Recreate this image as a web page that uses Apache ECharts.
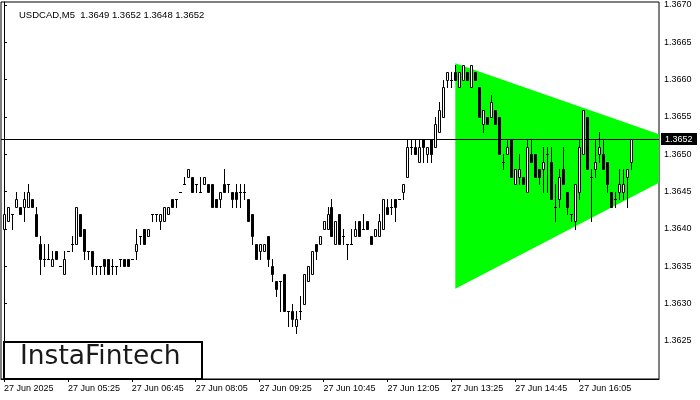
<!DOCTYPE html>
<html><head><meta charset="utf-8">
<script src="https://cdn.jsdelivr.net/npm/echarts@6/dist/echarts.min.js"></script>
<style>html,body{margin:0;padding:0;background:#fff}#c{width:700px;height:400px}</style>
</head><body><div id="c"></div>
<script>
// ---- data (USDCAD M5, bar index 0 = 27 Jun 04:05) ----
const openP = [
1.3640,1.3641,1.3642,1.3643,1.3643,1.3643,1.3643,1.3644,1.3642,1.3638,
1.3636,1.3636,1.3635,1.3637,1.3635,1.3634,1.3637,1.3638,1.3638,1.3642,
1.3640,1.3637,1.3637,1.3635,1.3635,1.3636,1.3636,1.3635,1.3635,1.3636,
1.3636,1.3636,1.3636,1.3637,1.3639,1.3640,1.3639,1.3642,1.3642,1.3641,
1.3641,1.3642,1.3644,1.3644,1.3645,1.3646,1.3647,1.3647,1.3646,1.3645,
1.3646,1.3646,1.3646,1.3644,1.3644,1.3646,1.3646,1.3645,1.3645,1.3645,
1.3645,1.3644,1.3642,1.3638,1.3637,1.3637,1.3639,1.3635,1.3633,1.3633,
1.3634,1.3629,1.3629,1.3627,1.3629,1.3630,1.3633,1.3634,1.3638,1.3638,
1.3640,1.3640,1.3643,1.3638,1.3642,1.3639,1.3638,1.3638,1.3639,1.3641,
1.3640,1.3641,1.3639,1.3639,1.3639,1.3640,1.3643,1.3643,1.3644,1.3644,
1.3645,1.3647,1.3651,1.3651,1.3649,1.3652,1.3650,1.3652,1.3651,1.3653,
1.3655,1.3660,1.3660,1.3661,1.3659,1.3660,1.3661,1.3659,1.3661,1.3659,
1.3654,1.3655,1.3655,1.3656,1.3655,1.3649,1.3650,1.3652,1.3646,1.3647,
1.3647,1.3645,1.3650,1.3650,1.3648,1.3648,1.3650,1.3649,1.3643,1.3644,
1.3648,1.3645,1.3642,1.3641,1.3645,1.3650,1.3655,1.3647,1.3648,1.3650,
1.3650,1.3649,1.3645,1.3644,1.3645,1.3645,1.3647,1.3649];
const highP = [
1.3643,1.3643,1.3642,1.3645,1.3643,1.3645,1.3646,1.3644,1.3643,1.3639,
1.3638,1.3638,1.3637,1.3637,1.3635,1.3637,1.3637,1.3639,1.3643,1.3642,
1.3640,1.3637,1.3637,1.3635,1.3635,1.3636,1.3636,1.3636,1.3635,1.3636,
1.3636,1.3636,1.3636,1.3640,1.3639,1.3640,1.3640,1.3642,1.3642,1.3642,
1.3643,1.3643,1.3644,1.3644,1.3645,1.3647,1.3648,1.3647,1.3646,1.3647,
1.3647,1.3646,1.3646,1.3644,1.3645,1.3648,1.3646,1.3645,1.3646,1.3646,
1.3646,1.3644,1.3642,1.3638,1.3638,1.3638,1.3639,1.3636,1.3633,1.3633,
1.3634,1.3629,1.3630,1.3629,1.3631,1.3634,1.3635,1.3637,1.3638,1.3639,
1.3641,1.3643,1.3644,1.3641,1.3642,1.3640,1.3638,1.3640,1.3641,1.3641,
1.3642,1.3641,1.3639,1.3640,1.3642,1.3644,1.3644,1.3644,1.3644,1.3644,
1.3646,1.3652,1.3652,1.3652,1.3652,1.3652,1.3651,1.3652,1.3655,1.3657,
1.3660,1.3661,1.3661,1.3662,1.3661,1.3662,1.3661,1.3662,1.3661,1.3659,
1.3656,1.3655,1.3658,1.3656,1.3655,1.3650,1.3652,1.3652,1.3648,1.3650,
1.3647,1.3652,1.3652,1.3650,1.3648,1.3651,1.3651,1.3651,1.3646,1.3648,
1.3651,1.3645,1.3642,1.3646,1.3652,1.3656,1.3655,1.3648,1.3652,1.3653,
1.3652,1.3649,1.3645,1.3645,1.3648,1.3648,1.3648,1.3652];
const lowP = [
1.3639,1.3641,1.3640,1.3643,1.3642,1.3641,1.3643,1.3643,1.3639,1.3634,
1.3635,1.3636,1.3635,1.3636,1.3635,1.3634,1.3637,1.3637,1.3638,1.3639,
1.3636,1.3636,1.3634,1.3634,1.3634,1.3634,1.3634,1.3634,1.3634,1.3635,
1.3635,1.3635,1.3636,1.3636,1.3638,1.3638,1.3639,1.3641,1.3641,1.3640,
1.3641,1.3642,1.3643,1.3643,1.3645,1.3646,1.3647,1.3645,1.3645,1.3645,
1.3646,1.3645,1.3643,1.3643,1.3643,1.3645,1.3645,1.3643,1.3643,1.3643,
1.3644,1.3641,1.3638,1.3636,1.3636,1.3637,1.3635,1.3633,1.3631,1.3629,
1.3629,1.3627,1.3627,1.3626,1.3628,1.3630,1.3633,1.3634,1.3636,1.3638,
1.3640,1.3640,1.3639,1.3638,1.3638,1.3638,1.3636,1.3638,1.3639,1.3639,
1.3640,1.3640,1.3638,1.3639,1.3639,1.3640,1.3642,1.3642,1.3641,1.3644,
1.3644,1.3647,1.3650,1.3650,1.3649,1.3649,1.3649,1.3649,1.3651,1.3653,
1.3655,1.3659,1.3659,1.3660,1.3659,1.3660,1.3660,1.3659,1.3660,1.3655,
1.3653,1.3654,1.3655,1.3654,1.3650,1.3648,1.3650,1.3647,1.3646,1.3646,
1.3646,1.3645,1.3649,1.3647,1.3646,1.3645,1.3645,1.3644,1.3641,1.3643,
1.3646,1.3642,1.3641,1.3640,1.3644,1.3650,1.3648,1.3641,1.3647,1.3649,
1.3648,1.3645,1.3643,1.3643,1.3644,1.3644,1.3643,1.3648];
const closeP = [
1.3642,1.3643,1.3642,1.3644,1.3642,1.3644,1.3645,1.3643,1.3639,1.3636,
1.3636,1.3636,1.3636,1.3636,1.3635,1.3636,1.3637,1.3638,1.3643,1.3639,
1.3637,1.3637,1.3635,1.3635,1.3635,1.3635,1.3634,1.3635,1.3635,1.3636,
1.3635,1.3635,1.3636,1.3638,1.3639,1.3638,1.3640,1.3642,1.3642,1.3642,
1.3643,1.3643,1.3643,1.3644,1.3645,1.3646,1.3648,1.3645,1.3646,1.3645,
1.3647,1.3645,1.3643,1.3643,1.3645,1.3645,1.3646,1.3644,1.3644,1.3645,
1.3645,1.3641,1.3639,1.3636,1.3638,1.3638,1.3636,1.3634,1.3632,1.3633,
1.3629,1.3629,1.3628,1.3628,1.3629,1.3634,1.3635,1.3637,1.3637,1.3639,
1.3641,1.3642,1.3639,1.3641,1.3638,1.3639,1.3638,1.3638,1.3640,1.3639,
1.3640,1.3640,1.3638,1.3640,1.3641,1.3644,1.3642,1.3643,1.3643,1.3644,
1.3646,1.3651,1.3651,1.3650,1.3651,1.3651,1.3651,1.3650,1.3654,1.3656,
1.3659,1.3661,1.3660,1.3660,1.3661,1.3662,1.3660,1.3662,1.3660,1.3655,
1.3656,1.3654,1.3657,1.3654,1.3650,1.3649,1.3651,1.3647,1.3648,1.3648,
1.3646,1.3651,1.3649,1.3647,1.3647,1.3649,1.3650,1.3644,1.3643,1.3647,
1.3646,1.3643,1.3642,1.3646,1.3651,1.3656,1.3648,1.3647,1.3649,1.3651,
1.3648,1.3646,1.3643,1.3644,1.3646,1.3646,1.3648,1.3652];

const tickIdx = [0,16,32,48,64,80,96,112,128,144];
const tickLabels = ['27 Jun 2025','27 Jun 05:25','27 Jun 06:45','27 Jun 08:05','27 Jun 09:25',
                    '27 Jun 10:45','27 Jun 12:05','27 Jun 13:25','27 Jun 14:45','27 Jun 16:05'];
const yTicks = [1.3625,1.3630,1.3635,1.3640,1.3645,1.3650,1.3655,1.3660,1.3665,1.3670];
const currentPrice = 1.3652;
const titleText = 'USDCAD,M5  1.3649 1.3652 1.3648 1.3652';
const logoText = 'InstaFintech';
// symmetrical triangle pattern (bar index, price)
const triX = [113, 164, 164, 113];
const triP = [1.36622, 1.36527, 1.36462, 1.36320];

const candles = openP.map((o, i) => [i, o, closeP[i], lowP[i], highP[i]]);
const FONT = '"Liberation Sans", Arial, sans-serif';

function renderCandle(params, api) {
  const i = api.value(0), o = api.value(1), c = api.value(2), l = api.value(3), h = api.value(4);
  const po = api.coord([i, o]), pc = api.coord([i, c]), pl = api.coord([i, l]), ph = api.coord([i, h]);
  const cx = Math.round(po[0]) + 0.5;
  const yo = Math.round(po[1]), yc = Math.round(pc[1]), yl = Math.round(pl[1]), yh = Math.round(ph[1]);
  const top = Math.min(yo, yc), bot = Math.max(yo, yc);
  const bull = c > o;
  const ch = [{ type: 'line', shape: { x1: cx, y1: yh, x2: cx, y2: yl + 1 },
                style: { stroke: '#000', lineWidth: 1 } }];
  if (bot - top < 1) {
    ch.push({ type: 'line', shape: { x1: cx - 1.5, y1: top + 0.5, x2: cx + 1.5, y2: top + 0.5 },
              style: { stroke: '#000', lineWidth: 1 } });
  } else {
    ch.push({ type: 'rect', shape: { x: cx - 1, y: top + 0.5, width: 2, height: bot - top },
              style: { stroke: '#000', lineWidth: 1, fill: bull ? '#fff' : '#000' } });
  }
  return { type: 'group', children: ch };
}

function renderTriangle(params, api) {
  const pts = triX.map((x, k) => api.coord([x, triP[k]]));
  return { type: 'polygon', shape: { points: pts }, style: { fill: '#00ff00', stroke: null } };
}

function renderPriceLine(params, api) {
  const cs = params.coordSys;
  const y = Math.round(api.coord([0, api.value(1)])[1]) + 0.5;
  const txt = api.value(1).toFixed(4);
  return { type: 'group', children: [
    { type: 'line', shape: { x1: cs.x, y1: y, x2: cs.x + cs.width, y2: y },
      style: { stroke: '#000', lineWidth: 1 } },
    { type: 'rect', shape: { x: cs.x + cs.width + 2, y: y - 6.5, width: 36, height: 12 },
      style: { fill: '#000' } },
    { type: 'text', x: cs.x + cs.width + 6, y: y,
      style: { text: txt, fill: '#fff', fontSize: 9, fontFamily: FONT, verticalAlign: 'middle', align: 'left' } }
  ] };
}

const chart = echarts.init(document.getElementById('c'), null, { renderer: 'canvas' });
chart.setOption({
  animation: false,
  backgroundColor: '#fff',
  title: { text: titleText, left: 14, top: 5,
           textStyle: { fontSize: 9.5, fontWeight: 'normal', color: '#000', fontFamily: FONT } },
  grid: { left: 1, right: 41, top: 2, bottom: 21, show: true, borderColor: '#000', borderWidth: 1,
          backgroundColor: 'transparent' },
  xAxis: {
    type: 'value', min: -0.75, max: 164, scale: true,
    axisLine: { show: true, lineStyle: { color: '#000', width: 1 } },
    axisTick: { show: true, customValues: tickIdx, length: 3, inside: false, lineStyle: { color: '#000' } },
    axisLabel: { show: true, customValues: tickIdx, align: 'left', margin: 5, fontSize: 9,
                 color: '#000', fontFamily: FONT,
                 formatter: v => tickLabels[tickIdx.indexOf(Math.round(v))] || '' },
    splitLine: { show: false }
  },
  yAxis: {
    type: 'value', position: 'right', min: 1.36199, max: 1.36704, scale: true,
    axisLine: { show: true, lineStyle: { color: '#000', width: 1 } },
    axisTick: { show: true, customValues: yTicks, length: 3, inside: false, lineStyle: { color: '#000' } },
    axisLabel: { show: true, customValues: yTicks, margin: 5, fontSize: 9, color: '#000',
                 fontFamily: FONT, formatter: v => v.toFixed(4) },
    splitLine: { show: false }
  },
  series: [
    { type: 'custom', name: 'triangle', data: [[triX[0], triP[0]]], renderItem: renderTriangle,
      clip: true, z: 1, silent: true },
    { type: 'custom', name: 'price', data: [[0, currentPrice]], renderItem: renderPriceLine,
      clip: false, z: 2, silent: true, encode: { x: 0, y: 1 } },
    { type: 'custom', name: 'USDCAD', data: candles, renderItem: renderCandle, clip: true, z: 3,
      encode: { x: 0, y: [1, 2, 3, 4] }, silent: true }
  ],
  graphic: [
    { type: 'rect', left: 3, top: 341, shape: { width: 198, height: 37 },
      style: { fill: '#fff', stroke: '#000', lineWidth: 2 }, z: 100 },
    { type: 'text', left: 20, top: 344, z: 101,
      style: { text: logoText, fontSize: 26.5, fontFamily: '"DejaVu Sans", sans-serif', fill: '#1a1a1a' } }
  ]
});
</script></body></html>
